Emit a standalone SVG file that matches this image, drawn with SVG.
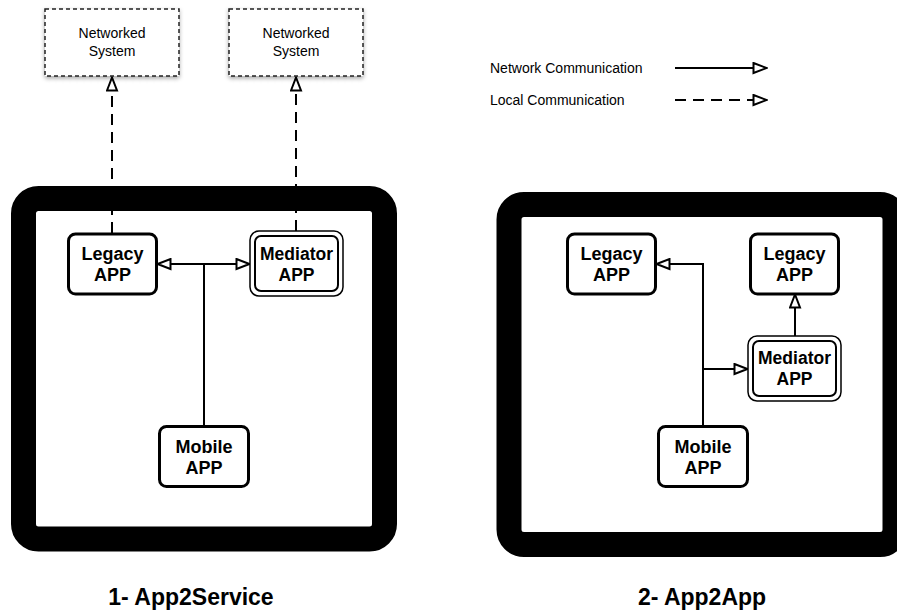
<svg xmlns="http://www.w3.org/2000/svg" width="897" height="612" viewBox="0 0 897 612">
<defs>
<style>
.frame{fill:none;stroke:#000;stroke-width:25}
.ns{fill:#fff;stroke:#222;stroke-width:1.5;stroke-dasharray:4,3}
.node{fill:#fff;stroke:#000;stroke-width:3}
.medo{fill:#fff;stroke:#000;stroke-width:1.5}
.medi{fill:none;stroke:#000;stroke-width:2}
.t{font-family:"Liberation Sans",Arial,sans-serif;text-anchor:middle;fill:#000}
.nt{font-size:14px}
.bt{font-size:18px;font-weight:bold}
.mt{font-size:17.5px;font-weight:bold}
.title{font-size:23px;font-weight:bold}
.lg{font-family:"Liberation Sans",Arial,sans-serif;font-size:14px;fill:#000}
.net{fill:none;stroke:#000;stroke-width:2}
.loc{fill:none;stroke:#000;stroke-width:2;stroke-dasharray:11,7}
</style>
<marker id="ah" viewBox="0 0 16 13" refX="15" refY="6.5" markerWidth="16" markerHeight="13" markerUnits="userSpaceOnUse" orient="auto-start-reverse">
<path d="M1.5,1.5 L14.5,6.5 L1.5,11.5 Z" fill="#fff" stroke="#000" stroke-width="2"/>
</marker>
<filter id="sh" x="-10%" y="-10%" width="120%" height="130%">
<feDropShadow dx="0" dy="2" stdDeviation="2" flood-color="#000" flood-opacity="0.35"/>
</filter>
</defs>
<rect width="897" height="612" fill="#fff"/>

<g id="frame1"><rect class="frame" x="23.5" y="198.5" width="361" height="340.5" rx="15"/></g>
<g id="frame2"><rect class="frame" x="509" y="204.5" width="386" height="340" rx="15"/></g>

<g id="connectors">
<line class="loc" x1="112" y1="233" x2="112" y2="77" marker-end="url(#ah)"/>
<line class="loc" x1="296" y1="231" x2="296" y2="77" marker-end="url(#ah)"/>
<line class="net" x1="157" y1="264" x2="250" y2="264" marker-start="url(#ah)" marker-end="url(#ah)"/>
<line class="net" x1="204" y1="264" x2="204" y2="426"/>
<polyline class="net" points="703,426 703,264 656,264" marker-end="url(#ah)"/>
<line class="net" x1="703" y1="369" x2="748" y2="369" marker-end="url(#ah)"/>
<line class="net" x1="795" y1="336" x2="795" y2="294" marker-end="url(#ah)"/>
<line class="net" x1="675" y1="68" x2="767" y2="68" marker-end="url(#ah)"/>
<line class="loc" x1="675" y1="100" x2="767" y2="100" marker-end="url(#ah)"/>
</g>

<g id="ns1">
<rect class="ns" x="45" y="9" width="134" height="67" filter="url(#sh)"/>
<text class="t nt" x="112" y="38">Networked</text>
<text class="t nt" x="112" y="56">System</text>
</g>
<g id="ns2">
<rect class="ns" x="229" y="9" width="134" height="67" filter="url(#sh)"/>
<text class="t nt" x="296" y="38">Networked</text>
<text class="t nt" x="296" y="56">System</text>
</g>

<g id="legacy1">
<rect class="node" x="68.5" y="234" width="88" height="60" rx="7"/>
<text class="t bt" x="112.5" y="260">Legacy</text>
<text class="t bt" x="112.5" y="281">APP</text>
</g>
<g id="mediator1">
<rect class="medo" x="250" y="231" width="93" height="65" rx="9"/>
<rect class="medi" x="255" y="236" width="83" height="55" rx="6"/>
<text class="t mt" x="296.5" y="260">Mediator</text>
<text class="t mt" x="296.5" y="281">APP</text>
</g>
<g id="mobile1">
<rect class="node" x="159.5" y="426.5" width="89" height="60" rx="7"/>
<text class="t bt" x="204" y="453">Mobile</text>
<text class="t bt" x="204" y="474">APP</text>
</g>

<g id="legacy2a">
<rect class="node" x="567.5" y="234" width="88" height="60" rx="7"/>
<text class="t bt" x="611.5" y="260">Legacy</text>
<text class="t bt" x="611.5" y="281">APP</text>
</g>
<g id="legacy2b">
<rect class="node" x="750.5" y="234" width="88" height="60" rx="7"/>
<text class="t bt" x="794.5" y="260">Legacy</text>
<text class="t bt" x="794.5" y="281">APP</text>
</g>
<g id="mediator2">
<rect class="medo" x="748" y="336" width="93" height="65" rx="9"/>
<rect class="medi" x="753" y="341" width="83" height="55" rx="6"/>
<text class="t mt" x="794.5" y="364">Mediator</text>
<text class="t mt" x="794.5" y="385">APP</text>
</g>
<g id="mobile2">
<rect class="node" x="658.5" y="426.5" width="89" height="60" rx="7"/>
<text class="t bt" x="703" y="453">Mobile</text>
<text class="t bt" x="703" y="474">APP</text>
</g>

<g id="legend">
<text class="lg" x="490" y="73">Network Communication</text>
<text class="lg" x="490" y="105">Local Communication</text>
</g>

<g id="titles">
<text class="t title" x="191" y="605">1- App2Service</text>
<text class="t title" x="702" y="605">2- App2App</text>
</g>
</svg>
